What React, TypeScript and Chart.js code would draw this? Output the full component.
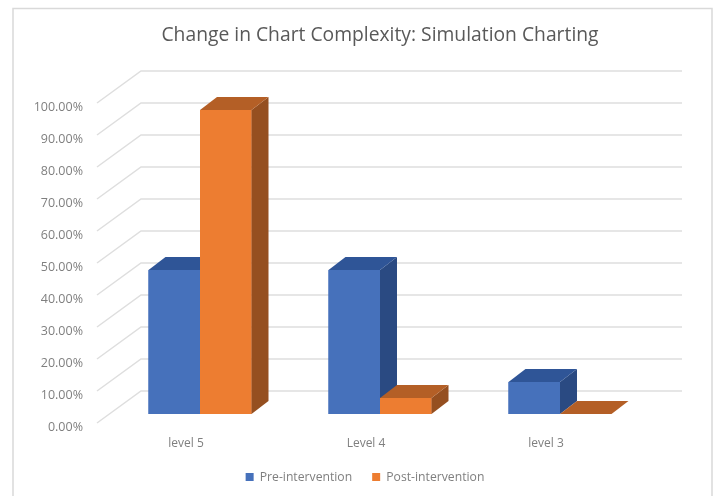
import React, { useEffect, useRef } from "react";
import { Chart, registerables } from "chart.js";

Chart.register(...registerables);

const TITLE = "Change in Chart Complexity: Simulation Charting";
const categories = ["level 5", "Level 4", "level 3"];
const preIntervention = [0.45, 0.45, 0.1];
const postIntervention = [0.95, 0.05, 0];

const FONT = "'Open Sans', sans-serif";
const GRID = "#dedede";
const FRONT_BLUE = "#4671bb";
const FRONT_ORANGE = "#ed7d31";
const SHADES: Record<string, { top: string; side: string }> = {
  "Pre-intervention": { top: "#2f5597", side: "#2a4a82" },
  "Post-intervention": { top: "#b45f26", side: "#954f20" },
};

const DEPTH_X = 17;
const DEPTH_Y = 13;

const scene3d = {
  id: "scene3d",
  afterLayout(chart: any) {
    const lg = chart.legend;
    lg.left -= 15;
    lg.right -= 15;
  },
  beforeDatasetsDraw(chart: any) {
    const { ctx, scales } = chart;
    const y = scales.y;
    ctx.save();
    ctx.strokeStyle = "#d9d9d9";
    ctx.lineWidth = 1.5;
    ctx.beginPath();
    ctx.moveTo(13, 510);
    ctx.lineTo(13, 8.5);
    ctx.lineTo(712, 8.5);
    ctx.lineTo(712, 510);
    ctx.stroke();
    ctx.strokeStyle = GRID;
    ctx.lineWidth = 1.5;
    y.ticks.forEach((t: any) => {
      const p = y.getPixelForValue(t.value);
      ctx.beginPath();
      ctx.moveTo(97, p + 9);
      ctx.lineTo(141, p - 23);
      ctx.lineTo(682, p - 23);
      ctx.stroke();
    });
    ctx.restore();
  },
  afterDatasetsDraw(chart: any) {
    const { ctx } = chart;
    ctx.save();
    chart.data.datasets.forEach((ds: any, i: number) => {
      const shade = SHADES[ds.label];
      chart.getDatasetMeta(i).data.forEach((el: any) => {
        const { x, y, base, width } = el.getProps(["x", "y", "base", "width"], true);
        const l = x - width / 2;
        const r = x + width / 2;
        el.draw(ctx);
        ctx.fillStyle = shade.side;
        ctx.beginPath();
        ctx.moveTo(r, y);
        ctx.lineTo(r + DEPTH_X, y - DEPTH_Y);
        ctx.lineTo(r + DEPTH_X, base - DEPTH_Y);
        ctx.lineTo(r, base);
        ctx.closePath();
        ctx.fill();
        ctx.fillStyle = shade.top;
        ctx.beginPath();
        ctx.moveTo(l, y);
        ctx.lineTo(l + DEPTH_X, y - DEPTH_Y);
        ctx.lineTo(r + DEPTH_X, y - DEPTH_Y);
        ctx.lineTo(r, y);
        ctx.closePath();
        ctx.fill();
      });
    });
    ctx.restore();
  },
};

export default function App() {
  const ref = useRef<HTMLCanvasElement>(null);
  useEffect(() => {
    const chart = new Chart(ref.current as HTMLCanvasElement, {
      type: "bar",
      plugins: [scene3d],
      data: {
        labels: categories,
        datasets: [
          {
            label: "Pre-intervention",
            data: preIntervention,
            backgroundColor: FRONT_BLUE,
            borderWidth: 0,
          },
          {
            label: "Post-intervention",
            data: postIntervention,
            backgroundColor: FRONT_ORANGE,
            borderWidth: 0,
          },
        ],
      },
      options: {
        responsive: false,
        animation: false,
        layout: { padding: { left: 0, right: 67, top: 0, bottom: 2.8 } },
        datasets: { bar: { categoryPercentage: 103 / 180, barPercentage: 1 } },
        plugins: {
          tooltip: { enabled: false },
          title: {
            display: true,
            text: TITLE,
            fullSize: false,
            color: "#595959",
            font: { family: FONT, size: 19.3, weight: "normal", lineHeight: "20px" },
            padding: { top: 26, bottom: 48 },
          },
          legend: {
            display: true,
            position: "bottom",
            fullSize: false,
            labels: {
              boxWidth: 8,
              boxHeight: 8,
              padding: 20,
              color: "#7f7f7f",
              font: { family: FONT, size: 12.2 },
            },
          },
        },
        scales: {
          x: {
            grid: { display: false, drawTicks: false },
            border: { display: false },
            afterFit(scale: any) {
              scale.height = 37;
            },
            ticks: {
              color: "#7f7f7f",
              font: { family: FONT, size: 12 },
              padding: 22,
              labelOffset: -14,
              maxRotation: 0,
            },
          },
          y: {
            min: 0,
            max: 1,
            grid: { display: false, drawTicks: false },
            border: { display: false },
            afterFit(scale: any) {
              scale.width = 110;
            },
            ticks: {
              stepSize: 0.1,
              color: "#7f7f7f",
              font: { family: FONT, size: 12.5 },
              padding: 27,
              labelOffset: 13,
              callback: (v: any) => (Number(v) * 100).toFixed(2) + "%",
            },
          },
        },
      },
    } as any);
    return () => chart.destroy();
  }, []);
  return (
    <div style={{ position: "absolute", left: 0, top: 0, width: 717, height: 496 }}>
      <canvas ref={ref} width={717} height={496} style={{ display: "block", filter: "blur(0.5px)" }} />
    </div>
  );
}
